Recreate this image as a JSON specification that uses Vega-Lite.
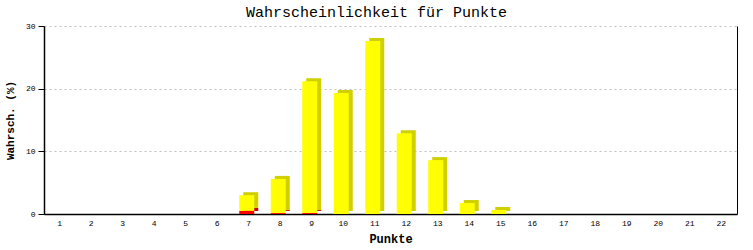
{
  "$schema": "https://vega.github.io/schema/vega-lite/v6.json",
  "width": 693,
  "height": 188,
  "autosize": "none",
  "padding": {"left": 44, "top": 26, "right": 16, "bottom": 36},
  "background": "white",
  "title": {
    "text": "Wahrscheinlichkeit für Punkte",
    "font": "Liberation Mono",
    "fontSize": 15,
    "fontWeight": "normal",
    "color": "black",
    "anchor": "middle",
    "offset": 2,
    "dx": -14
  },
  "data": {
    "values": [
      {"punkte": 1, "serie": "rot", "ord": 1, "wert": 0},
      {"punkte": 2, "serie": "rot", "ord": 1, "wert": 0},
      {"punkte": 3, "serie": "rot", "ord": 1, "wert": 0},
      {"punkte": 4, "serie": "rot", "ord": 1, "wert": 0},
      {"punkte": 5, "serie": "rot", "ord": 1, "wert": 0},
      {"punkte": 6, "serie": "rot", "ord": 1, "wert": 0},
      {"punkte": 7, "serie": "rot", "ord": 1, "wert": 0.5},
      {"punkte": 8, "serie": "rot", "ord": 1, "wert": 0.15},
      {"punkte": 9, "serie": "rot", "ord": 1, "wert": 0.15},
      {"punkte": 10, "serie": "rot", "ord": 1, "wert": 0},
      {"punkte": 11, "serie": "rot", "ord": 1, "wert": 0},
      {"punkte": 12, "serie": "rot", "ord": 1, "wert": 0},
      {"punkte": 13, "serie": "rot", "ord": 1, "wert": 0},
      {"punkte": 14, "serie": "rot", "ord": 1, "wert": 0},
      {"punkte": 15, "serie": "rot", "ord": 1, "wert": 0},
      {"punkte": 16, "serie": "rot", "ord": 1, "wert": 0},
      {"punkte": 17, "serie": "rot", "ord": 1, "wert": 0},
      {"punkte": 18, "serie": "rot", "ord": 1, "wert": 0},
      {"punkte": 19, "serie": "rot", "ord": 1, "wert": 0},
      {"punkte": 20, "serie": "rot", "ord": 1, "wert": 0},
      {"punkte": 21, "serie": "rot", "ord": 1, "wert": 0},
      {"punkte": 22, "serie": "rot", "ord": 1, "wert": 0},
      {"punkte": 1, "serie": "gelb", "ord": 2, "wert": 0},
      {"punkte": 2, "serie": "gelb", "ord": 2, "wert": 0},
      {"punkte": 3, "serie": "gelb", "ord": 2, "wert": 0},
      {"punkte": 4, "serie": "gelb", "ord": 2, "wert": 0},
      {"punkte": 5, "serie": "gelb", "ord": 2, "wert": 0},
      {"punkte": 6, "serie": "gelb", "ord": 2, "wert": 0},
      {"punkte": 7, "serie": "gelb", "ord": 2, "wert": 2.5},
      {"punkte": 8, "serie": "gelb", "ord": 2, "wert": 5.45},
      {"punkte": 9, "serie": "gelb", "ord": 2, "wert": 21.05},
      {"punkte": 10, "serie": "gelb", "ord": 2, "wert": 19.3},
      {"punkte": 11, "serie": "gelb", "ord": 2, "wert": 27.6},
      {"punkte": 12, "serie": "gelb", "ord": 2, "wert": 12.9},
      {"punkte": 13, "serie": "gelb", "ord": 2, "wert": 8.6},
      {"punkte": 14, "serie": "gelb", "ord": 2, "wert": 1.75},
      {"punkte": 15, "serie": "gelb", "ord": 2, "wert": 0.64},
      {"punkte": 16, "serie": "gelb", "ord": 2, "wert": 0},
      {"punkte": 17, "serie": "gelb", "ord": 2, "wert": 0},
      {"punkte": 18, "serie": "gelb", "ord": 2, "wert": 0},
      {"punkte": 19, "serie": "gelb", "ord": 2, "wert": 0},
      {"punkte": 20, "serie": "gelb", "ord": 2, "wert": 0},
      {"punkte": 21, "serie": "gelb", "ord": 2, "wert": 0},
      {"punkte": 22, "serie": "gelb", "ord": 2, "wert": 0}
    ]
  },
  "transform": [
    {"stack": "wert", "groupby": ["punkte"], "sort": [{"field": "ord", "order": "ascending"}], "as": ["y0", "y1"]}
  ],
  "encoding": {
    "x": {
      "field": "punkte",
      "type": "ordinal",
      "scale": {"domain": [1,2,3,4,5,6,7,8,9,10,11,12,13,14,15,16,17,18,19,20,21,22], "paddingInner": 0, "paddingOuter": 0},
      "axis": {
        "title": "Punkte",
        "titleFont": "Liberation Mono",
        "titleFontSize": 12,
        "titleFontWeight": "bold",
        "titleColor": "black",
        "titlePadding": 6,
        "labelFont": "Liberation Mono",
        "labelFontSize": 8,
        "labelColor": "black",
        "labelAngle": 0,
        "labelPadding": 5,
        "ticks": false,
        "domainColor": "black",
        "domainWidth": 1.5,
        "grid": false
      }
    }
  },
  "layer": [
    {
      "mark": {"type": "bar", "width": 15, "xOffset": 2, "yOffset": -3, "y2Offset": -3},
      "encoding": {
        "y": {
          "field": "y1",
          "type": "quantitative",
          "scale": {"domain": [0, 30], "nice": false},
          "axis": {"orient": "right", "title": null, "labels": false, "ticks": false, "grid": false, "domainColor": "black", "domainWidth": 1}
        },
        "y2": {"field": "y0"},
        "color": {
          "field": "serie",
          "type": "nominal",
          "scale": {"domain": ["rot", "gelb"], "range": ["#cc0000", "#d0d000"]},
          "legend": null
        }
      }
    },
    {
      "mark": {"type": "bar", "width": 15, "xOffset": -2},
      "encoding": {
        "y": {
          "field": "y1",
          "type": "quantitative",
          "scale": {"domain": [0, 30], "nice": false},
          "axis": {
            "orient": "left",
            "values": [0, 10, 20, 30],
            "title": "Wahrsch. (%)",
            "titleFont": "Liberation Mono",
            "titleFontSize": 11,
            "titleFontWeight": "bold",
            "titleColor": "black",
            "titlePadding": 10,
            "labelFont": "Liberation Mono",
            "labelFontSize": 8,
            "labelColor": "black",
            "labelPadding": 3,
            "tickSize": 6,
            "tickColor": "black",
            "domainColor": "black",
            "domainWidth": 1.5,
            "grid": true,
            "gridColor": "#c0c0c0",
            "gridDash": [2, 3]
          }
        },
        "y2": {"field": "y0"},
        "color": {
          "field": "serie",
          "type": "nominal",
          "scale": {"domain": ["rot", "gelb"], "range": ["#ff0000", "#ffff00"]},
          "legend": null
        }
      }
    }
  ],
  "resolve": {"scale": {"color": "independent"}, "axis": {"y": "independent"}},
  "config": {"view": {"stroke": null}}
}
